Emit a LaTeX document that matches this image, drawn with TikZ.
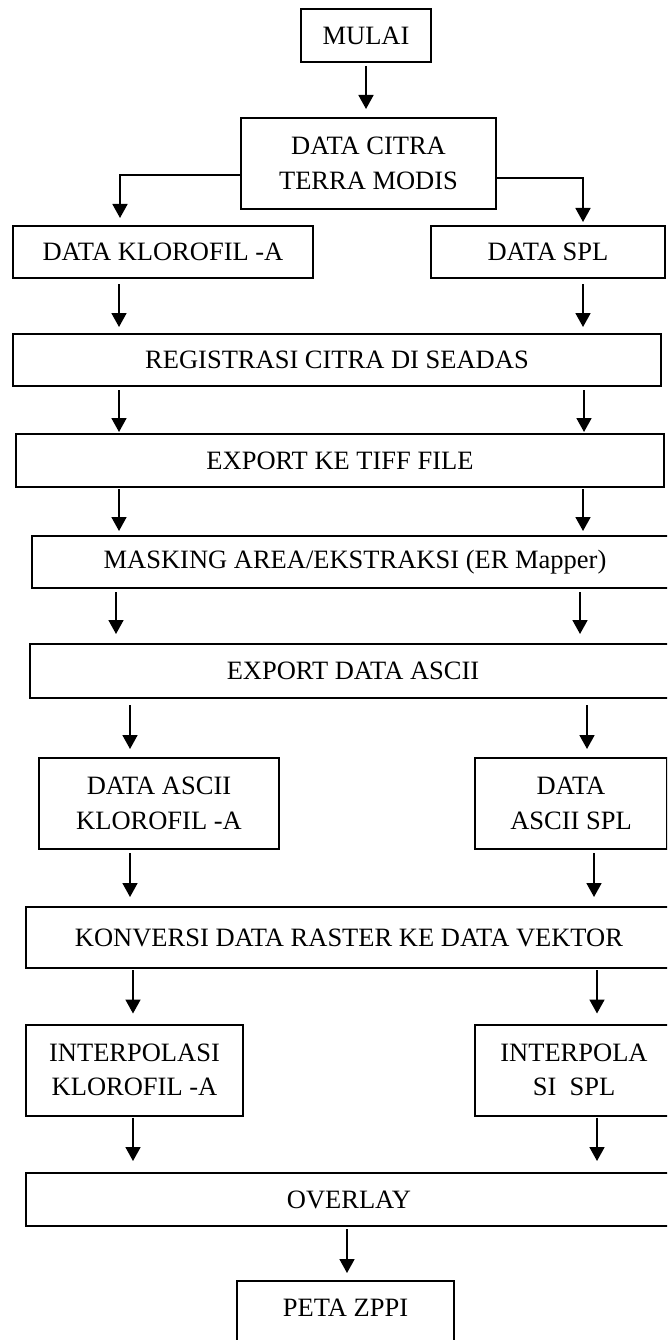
\documentclass[tikz,border=0pt]{standalone}
\usepackage{fontspec}
\setmainfont{Liberation Serif}
\usetikzlibrary{arrows.meta,calc}
\begin{document}
\begin{tikzpicture}[x=1pt,y=-1pt,
  box/.style={draw, line width=2pt, inner sep=0pt, outer sep=0pt, align=center,
    font=\fontsize{26.5}{34.5}\selectfont},
  arr/.style={line width=1.8pt, -{Triangle[length=14pt,width=15pt]}}]
\useasboundingbox (0,0) rectangle (667,1340);
\clip (0,0) rectangle (667,1340);
\fill[white] (0,0) rectangle (667,1340);

% boxes
\node[box, minimum width=130pt, minimum height=53pt] (mulai) at (366,35.5) {MULAI};
\node[box, minimum width=255pt, minimum height=91pt] (citra) at (368.5,163.5) {DATA CITRA\\TERRA MODIS};
\node[box, minimum width=300pt, minimum height=52pt] (klor) at (163,252) {DATA KLOROFIL -A};
\node[box, minimum width=234pt, minimum height=52pt] (spl) at (548,252) {DATA SPL};
\node[box, minimum width=648pt, minimum height=52pt] (reg) at (337,360) {REGISTRASI CITRA DI SEADAS};
\node[box, minimum width=648pt, minimum height=53pt] (tiff) at (340,460.5) {EXPORT KE TIFF FILE};
\node[box, minimum width=646pt, minimum height=52pt] (mask) at (355,562) {MASKING AREA/EKSTRAKSI (ER Mapper)};
\node[box, minimum width=646pt, minimum height=54pt] (ascii) at (353,671) {EXPORT DATA ASCII};
\node[box, minimum width=240pt, minimum height=91pt] (aklor) at (159,803.5) {DATA ASCII\\KLOROFIL -A};
\node[box, minimum width=192pt, minimum height=91pt] (aspl) at (571,803.5) {DATA\\ASCII SPL};
\node[box, minimum width=646pt, minimum height=61pt] (konv) at (349,937.5) {KONVERSI DATA RASTER KE DATA VEKTOR};
\node[box, minimum width=217pt, minimum height=91pt] (iklor) at (134.5,1070) {INTERPOLASI\\KLOROFIL -A};
\node[box, minimum width=198pt, minimum height=91pt] (ispl) at (574,1070) {INTERPOLA\\SI~~SPL};
\node[box, minimum width=646pt, minimum height=53pt] (over) at (349,1199.5) {OVERLAY};
\node[box, minimum width=217pt, minimum height=88pt] (peta) at (345.5,1325) {PETA ZPPI\\\mbox{}};

% helper coordinates
\coordinate (x366) at (366,0);
\coordinate (x120) at (120,0);
\coordinate (x583) at (583,0);
\coordinate (x119) at (119,0);
\coordinate (x584) at (584,0);
\coordinate (x116) at (116,0);
\coordinate (x580) at (580,0);
\coordinate (x130) at (130,0);
\coordinate (x587) at (587,0);
\coordinate (x594) at (594,0);
\coordinate (x133) at (133,0);
\coordinate (x597) at (597,0);
\coordinate (x347) at (347,0);
\coordinate (yL) at (0,175);
\coordinate (yR) at (0,178);

% connectors
\draw[arr, shorten <=4pt, shorten >=9pt] (mulai.south -| x366) -- (citra.north -| x366);
\draw[arr, shorten >=8pt] (citra.west |- yL) -| (klor.north -| x120);
\draw[arr, shorten >=4pt] (citra.east |- yR) -| (spl.north -| x583);

\draw[arr, shorten <=6pt, shorten >=7pt] (klor.south -| x119) -- (reg.north -| x119);
\draw[arr, shorten <=6pt, shorten >=7pt] (spl.south -| x583) -- (reg.north -| x583);

\draw[arr, shorten <=4pt, shorten >=2pt] (reg.south -| x119) -- (tiff.north -| x119);
\draw[arr, shorten <=4pt, shorten >=2pt] (reg.south -| x584) -- (tiff.north -| x584);

\draw[arr, shorten <=2pt, shorten >=5pt] (tiff.south -| x119) -- (mask.north -| x119);
\draw[arr, shorten <=2pt, shorten >=5pt] (tiff.south -| x583) -- (mask.north -| x583);

\draw[arr, shorten <=4pt, shorten >=10pt] (mask.south -| x116) -- (ascii.north -| x116);
\draw[arr, shorten <=4pt, shorten >=10pt] (mask.south -| x580) -- (ascii.north -| x580);

\draw[arr, shorten <=7pt, shorten >=9pt] (ascii.south -| x130) -- (aklor.north -| x130);
\draw[arr, shorten <=7pt, shorten >=9pt] (ascii.south -| x587) -- (aspl.north -| x587);

\draw[arr, shorten <=4pt, shorten >=10pt] (aklor.south -| x130) -- (konv.north -| x130);
\draw[arr, shorten <=4pt, shorten >=10pt] (aspl.south -| x594) -- (konv.north -| x594);

\draw[arr, shorten <=2pt, shorten >=11pt] (konv.south -| x133) -- (iklor.north -| x133);
\draw[arr, shorten <=2pt, shorten >=11pt] (konv.south -| x597) -- (ispl.north -| x597);

\draw[arr, shorten <=2pt, shorten >=12pt] (iklor.south -| x133) -- (over.north -| x133);
\draw[arr, shorten <=2pt, shorten >=12pt] (ispl.south -| x597) -- (over.north -| x597);

\draw[arr, shorten <=3pt, shorten >=8pt] (over.south -| x347) -- (peta.north -| x347);
\end{tikzpicture}
\end{document}
